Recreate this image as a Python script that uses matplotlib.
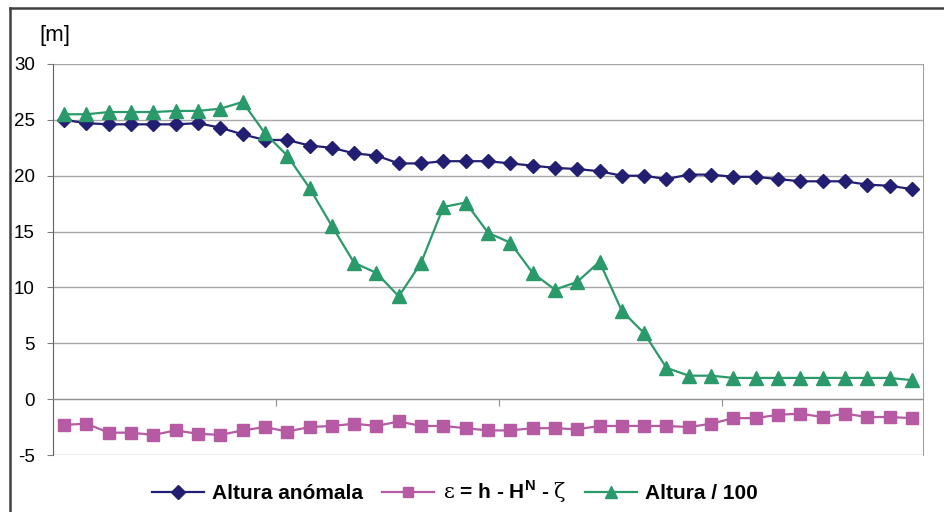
import numpy as np
import matplotlib
matplotlib.use("Agg")
import matplotlib.pyplot as plt
from matplotlib.lines import Line2D

plt.rcParams["font.family"] = ["Liberation Sans", "DejaVu Sans"]
plt.rcParams["mathtext.fontset"] = "custom"
plt.rcParams["mathtext.rm"] = "DejaVu Serif"
plt.rcParams["mathtext.bf"] = "Liberation Sans:bold"

# ── Data ─────────────────────────────────────────────────────────────────────
altura_anomala = [25.0, 24.7, 24.6, 24.6, 24.6, 24.6, 24.7, 24.3, 23.7, 23.2,
                  23.2, 22.7, 22.5, 22.0, 21.8, 21.1, 21.1, 21.3, 21.3, 21.3,
                  21.1, 20.9, 20.7, 20.6, 20.4, 20.0, 20.0, 19.7, 20.1, 20.1,
                  19.9, 19.9, 19.7, 19.5, 19.5, 19.5, 19.2, 19.1, 18.8]
epsilon = [-2.3, -2.2, -3.0, -3.0, -3.2, -2.8, -3.1, -3.2, -2.8, -2.5,
           -2.9, -2.5, -2.4, -2.2, -2.4, -2.0, -2.4, -2.4, -2.6, -2.8,
           -2.8, -2.6, -2.6, -2.7, -2.4, -2.4, -2.4, -2.4, -2.5, -2.2,
           -1.7, -1.7, -1.4, -1.3, -1.6, -1.3, -1.6, -1.6, -1.7]
altura_100 = [25.5, 25.5, 25.7, 25.7, 25.7, 25.8, 25.8, 26.0, 26.6, 23.8,
              21.8, 18.9, 15.5, 12.2, 11.3, 9.2, 12.2, 17.2, 17.6, 14.9,
              14.0, 11.3, 9.8, 10.5, 12.3, 7.9, 5.9, 2.8, 2.1, 2.1,
              1.9, 1.9, 1.9, 1.9, 1.9, 1.9, 1.9, 1.9, 1.7]
yticks = [-5, 0, 5, 10, 15, 20, 25, 30]

C_BLUE = "#221f72"
C_MAG = "#b65ba3"
C_GREEN = "#2b9a6a"

W, H = 944, 512
fig = plt.figure(figsize=(W / 100, H / 100), dpi=100)
ax = fig.add_axes([53 / W, 1 - 455 / H, (923 - 53) / W, (455 - 64) / H])

x = np.arange(len(altura_anomala))
ax.plot(x, altura_anomala, "-D", color=C_BLUE, lw=1.6, ms=7.5, label="Altura anómala")
ax.plot(x, epsilon, "-s", color=C_MAG, lw=1.6, ms=8,
        label=r"$\mathrm{\varepsilon}$ = h - H$^{\mathbf{N}}$ - $\mathrm{\zeta}$")
ax.plot(x, altura_100, "-^", color=C_GREEN, lw=1.6, ms=9.5, label="Altura / 100")

ax.set_xlim(-0.5, len(x) - 0.5)
ax.set_ylim(-5, 30)
ax.set_yticks(yticks)
ax.set_yticklabels([str(v) for v in yticks], fontsize=13.5)
ax.yaxis.grid(True, color="#a8a8a8", lw=1)
ax.set_axisbelow(True)
ax.tick_params(axis="y", direction="out", length=4, color="#808080", pad=9)

# category axis sits on y = 0, tick marks every 10 categories
ax.spines["bottom"].set_position(("data", 0))
ax.spines["bottom"].set_color("#909090")
ax.set_xticks([9.5, 19.5, 29.5])
ax.set_xticklabels([])
ax.tick_params(axis="x", direction="out", length=5, color="#909090")
ax.spines["top"].set_visible(False)
ax.spines["right"].set_color("#a0a0a0")
ax.spines["left"].set_color("#606060")

fig.text(55 / W, 1 - 35 / H, "[m]", fontsize=16, ha="center", va="center")

handles, labels = ax.get_legend_handles_labels()
fig.legend(handles, labels, loc="center", bbox_to_anchor=(455 / W, 1 - 492 / H),
           ncol=3, frameon=False, handlelength=2.5, handletextpad=0.4,
           columnspacing=0.9, prop={"weight": "bold", "size": 15}, markerscale=0.9)

# outer frame of the original chart (only top and left visible)
fig.add_artist(Line2D([10 / W, 10 / W], [0, 1 - 8 / H], transform=fig.transFigure,
                      color="#404040", lw=1.8))
fig.add_artist(Line2D([10 / W, 1], [1 - 8 / H, 1 - 8 / H], transform=fig.transFigure,
                      color="#404040", lw=1.8))

fig.savefig("out.png", dpi=100)
